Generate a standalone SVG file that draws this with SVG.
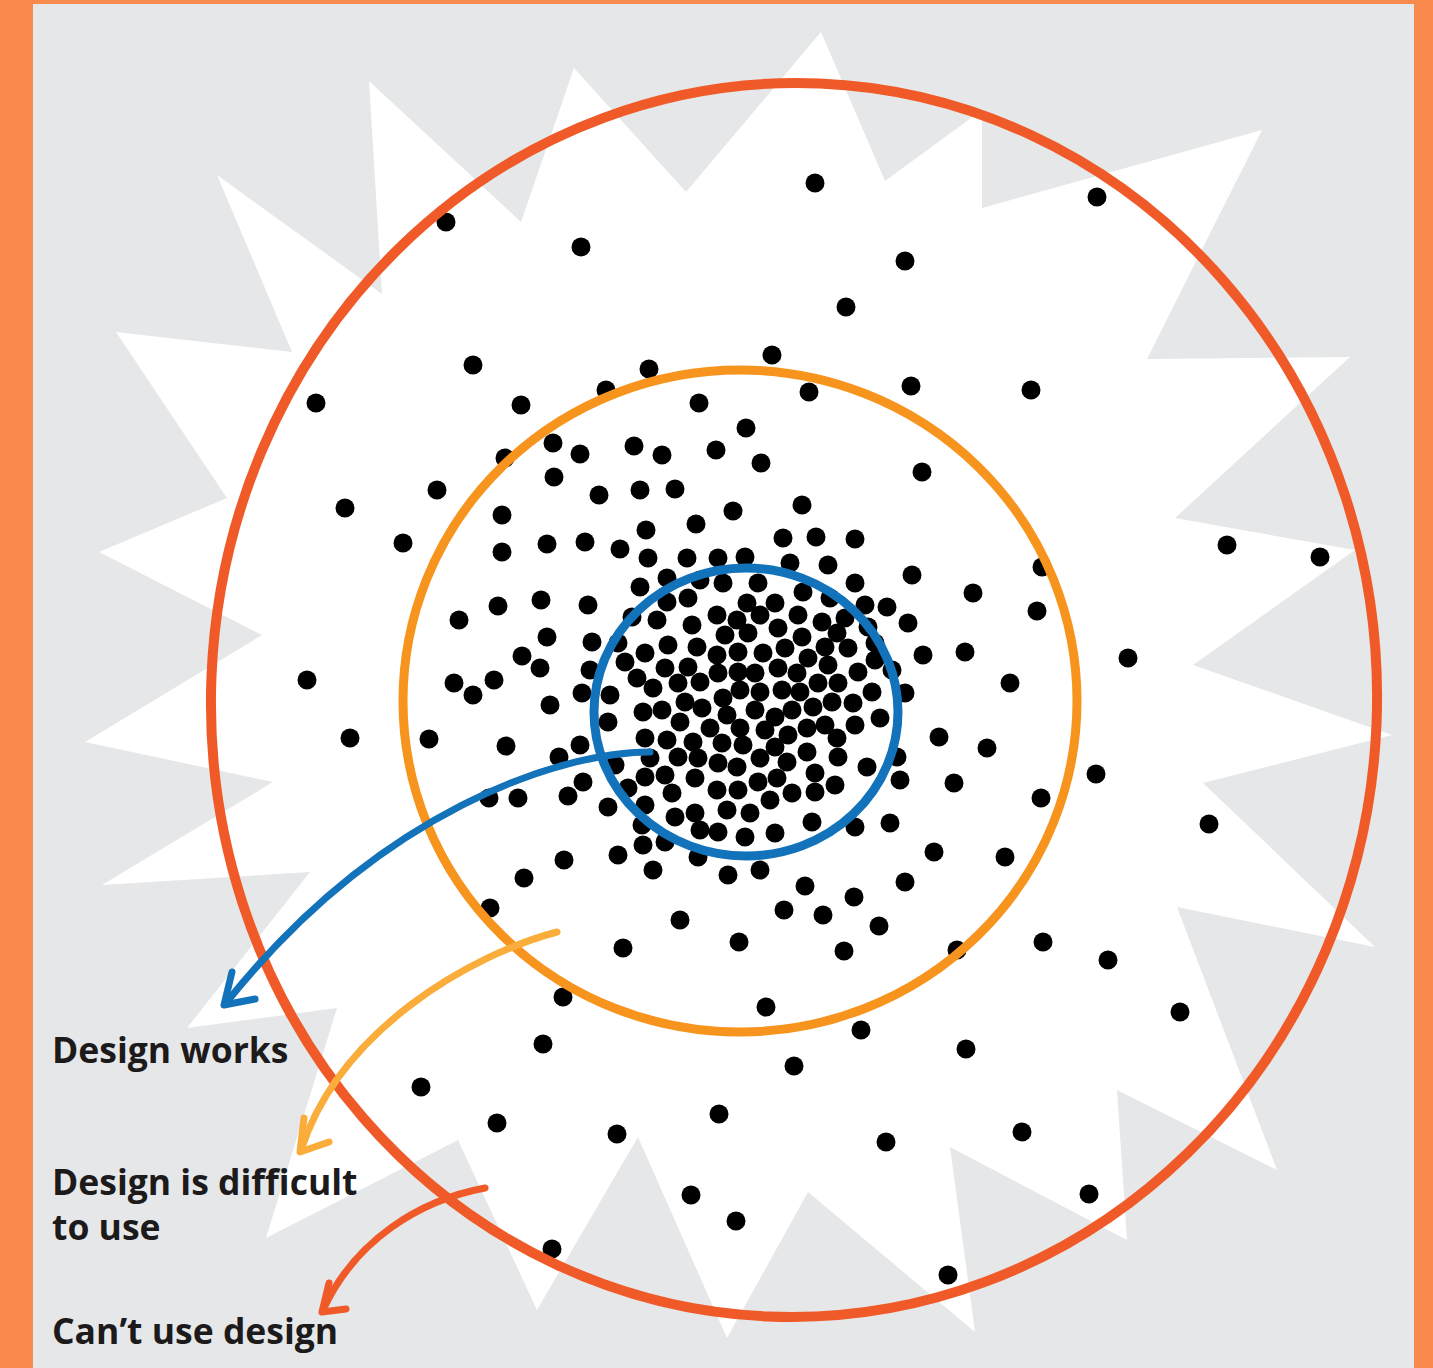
<svg xmlns="http://www.w3.org/2000/svg" width="1433" height="1368" viewBox="0 0 1433 1368">
<style>
.lbl{font-family:"Open Sans","Liberation Sans",sans-serif;font-weight:700;font-size:35.5px;fill:#1c1a1b}
.dots circle{fill:#000}
.ring{fill:none}
.arr{fill:none;stroke-width:7;stroke-linecap:round;stroke-linejoin:round}
</style>
<rect x="0" y="0" width="1433" height="1368" fill="#F78A4C"/>
<rect x="33" y="4" width="1381" height="1364" fill="#E6E7E8"/>
<g id="starburst">
<polygon fill="#FFFFFF" points="821,32 885,181 982,110 982,208 1262,130 1147,359 1350,357 1175,518 1355,550 1193,665 1392,735 1203,783 1375,947 1177,907 1277,1170 1117,1090 1127,1240 950,1147 975,1332 808,1192 727,1338 638,1137 537,1310 458,1140 266,1238 337,1008 187,1028 310,872 102,885 273,782 85,742 262,635 99,552 227,498 116,332 292,352 217,175 382,294 369,81 521,222 574,68 686,192"/>
</g>
<g id="dots" class="dots">
<circle cx="815" cy="183" r="9.5"/><circle cx="1097" cy="197" r="9.5"/><circle cx="446" cy="222" r="9.5"/><circle cx="581" cy="247" r="9.5"/><circle cx="905" cy="261" r="9.5"/><circle cx="846" cy="307" r="9.5"/><circle cx="473" cy="365" r="9.5"/><circle cx="649" cy="369" r="9.5"/><circle cx="772" cy="355" r="9.5"/><circle cx="911" cy="386" r="9.5"/><circle cx="809" cy="392" r="9.5"/><circle cx="606" cy="390" r="9.5"/><circle cx="521" cy="405" r="9.5"/><circle cx="699" cy="403" r="9.5"/><circle cx="316" cy="403" r="9.5"/><circle cx="1031" cy="390" r="9.5"/><circle cx="922" cy="472" r="9.5"/><circle cx="437" cy="490" r="9.5"/><circle cx="345" cy="508" r="9.5"/><circle cx="403" cy="543" r="9.5"/><circle cx="1227" cy="545" r="9.5"/><circle cx="1320" cy="557" r="9.5"/><circle cx="1042" cy="567" r="9.5"/><circle cx="1128" cy="658" r="9.5"/><circle cx="307" cy="680" r="9.5"/><circle cx="350" cy="738" r="9.5"/><circle cx="429" cy="739" r="9.5"/><circle cx="1096" cy="774" r="9.5"/><circle cx="1209" cy="824" r="9.5"/><circle cx="1041" cy="798" r="9.5"/><circle cx="1005" cy="857" r="9.5"/><circle cx="1043" cy="942" r="9.5"/><circle cx="1108" cy="960" r="9.5"/><circle cx="1180" cy="1012" r="9.5"/><circle cx="966" cy="1049" r="9.5"/><circle cx="1022" cy="1132" r="9.5"/><circle cx="1089" cy="1194" r="9.5"/><circle cx="948" cy="1275" r="9.5"/><circle cx="957" cy="950" r="9.5"/><circle cx="563" cy="997" r="9.5"/><circle cx="766" cy="1007" r="9.5"/><circle cx="861" cy="1030" r="9.5"/><circle cx="543" cy="1044" r="9.5"/><circle cx="794" cy="1066" r="9.5"/><circle cx="497" cy="1123" r="9.5"/><circle cx="617" cy="1134" r="9.5"/><circle cx="719" cy="1114" r="9.5"/><circle cx="886" cy="1142" r="9.5"/><circle cx="691" cy="1195" r="9.5"/><circle cx="736" cy="1221" r="9.5"/><circle cx="552" cy="1249" r="9.5"/><circle cx="421" cy="1087" r="9.5"/><circle cx="490" cy="908" r="9.5"/>
<circle cx="1010" cy="683" r="9.5"/><circle cx="987" cy="748" r="9.5"/><circle cx="954" cy="783" r="9.5"/><circle cx="973" cy="593" r="9.5"/><circle cx="1037" cy="611" r="9.5"/><circle cx="965" cy="652" r="9.5"/><circle cx="934" cy="852" r="9.5"/><circle cx="905" cy="882" r="9.5"/><circle cx="879" cy="926" r="9.5"/><circle cx="844" cy="951" r="9.5"/><circle cx="854" cy="897" r="9.5"/><circle cx="823" cy="915" r="9.5"/><circle cx="784" cy="910" r="9.5"/><circle cx="805" cy="886" r="9.5"/><circle cx="739" cy="942" r="9.5"/><circle cx="680" cy="920" r="9.5"/><circle cx="623" cy="948" r="9.5"/><circle cx="564" cy="860" r="9.5"/><circle cx="524" cy="878" r="9.5"/><circle cx="489" cy="798" r="9.5"/><circle cx="518" cy="798" r="9.5"/><circle cx="568" cy="796" r="9.5"/><circle cx="459" cy="620" r="9.5"/><circle cx="454" cy="683" r="9.5"/><circle cx="473" cy="695" r="9.5"/><circle cx="494" cy="680" r="9.5"/><circle cx="502" cy="515" r="9.5"/><circle cx="502" cy="552" r="9.5"/><circle cx="547" cy="544" r="9.5"/><circle cx="585" cy="542" r="9.5"/><circle cx="554" cy="477" r="9.5"/><circle cx="599" cy="495" r="9.5"/><circle cx="640" cy="490" r="9.5"/><circle cx="675" cy="489" r="9.5"/><circle cx="733" cy="511" r="9.5"/><circle cx="802" cy="505" r="9.5"/><circle cx="696" cy="524" r="9.5"/><circle cx="646" cy="530" r="9.5"/><circle cx="553" cy="443" r="9.5"/><circle cx="505" cy="458" r="9.5"/><circle cx="580" cy="454" r="9.5"/><circle cx="634" cy="446" r="9.5"/><circle cx="662" cy="455" r="9.5"/><circle cx="716" cy="450" r="9.5"/><circle cx="761" cy="463" r="9.5"/><circle cx="746" cy="428" r="9.5"/><circle cx="620" cy="549" r="9.5"/><circle cx="783" cy="538" r="9.5"/><circle cx="816" cy="537" r="9.5"/><circle cx="855" cy="539" r="9.5"/><circle cx="939" cy="737" r="9.5"/><circle cx="498" cy="606" r="9.5"/><circle cx="541" cy="600" r="9.5"/><circle cx="547" cy="637" r="9.5"/><circle cx="522" cy="656" r="9.5"/><circle cx="540" cy="668" r="9.5"/><circle cx="550" cy="705" r="9.5"/><circle cx="506" cy="746" r="9.5"/><circle cx="559" cy="757" r="9.5"/>
<circle cx="588" cy="605" r="9.5"/><circle cx="640" cy="587" r="9.5"/><circle cx="667" cy="578" r="9.5"/><circle cx="648" cy="558" r="9.5"/><circle cx="687" cy="558" r="9.5"/><circle cx="718" cy="558" r="9.5"/><circle cx="745" cy="557" r="9.5"/><circle cx="700" cy="580" r="9.5"/><circle cx="723" cy="583" r="9.5"/><circle cx="667" cy="602" r="9.5"/><circle cx="688" cy="598" r="9.5"/><circle cx="657" cy="620" r="9.5"/><circle cx="692" cy="625" r="9.5"/><circle cx="717" cy="615" r="9.5"/><circle cx="737" cy="620" r="9.5"/><circle cx="747" cy="603" r="9.5"/><circle cx="632" cy="617" r="9.5"/><circle cx="592" cy="642" r="9.5"/><circle cx="618" cy="643" r="9.5"/><circle cx="645" cy="653" r="9.5"/><circle cx="668" cy="645" r="9.5"/><circle cx="697" cy="647" r="9.5"/><circle cx="725" cy="635" r="9.5"/><circle cx="748" cy="633" r="9.5"/><circle cx="625" cy="662" r="9.5"/><circle cx="665" cy="668" r="9.5"/><circle cx="688" cy="667" r="9.5"/><circle cx="717" cy="655" r="9.5"/><circle cx="738" cy="652" r="9.5"/><circle cx="590" cy="670" r="9.5"/><circle cx="637" cy="678" r="9.5"/><circle cx="653" cy="688" r="9.5"/><circle cx="678" cy="683" r="9.5"/><circle cx="700" cy="682" r="9.5"/><circle cx="718" cy="673" r="9.5"/><circle cx="738" cy="672" r="9.5"/><circle cx="582" cy="693" r="9.5"/><circle cx="610" cy="695" r="9.5"/><circle cx="643" cy="712" r="9.5"/><circle cx="662" cy="710" r="9.5"/><circle cx="685" cy="702" r="9.5"/><circle cx="702" cy="708" r="9.5"/><circle cx="723" cy="698" r="9.5"/><circle cx="740" cy="690" r="9.5"/><circle cx="580" cy="745" r="9.5"/><circle cx="608" cy="722" r="9.5"/><circle cx="680" cy="722" r="9.5"/><circle cx="710" cy="728" r="9.5"/><circle cx="727" cy="715" r="9.5"/><circle cx="740" cy="728" r="9.5"/><circle cx="645" cy="738" r="9.5"/><circle cx="667" cy="740" r="9.5"/><circle cx="693" cy="742" r="9.5"/><circle cx="722" cy="743" r="9.5"/><circle cx="743" cy="745" r="9.5"/><circle cx="615" cy="765" r="9.5"/><circle cx="650" cy="758" r="9.5"/><circle cx="678" cy="757" r="9.5"/><circle cx="698" cy="758" r="9.5"/><circle cx="718" cy="763" r="9.5"/><circle cx="737" cy="767" r="9.5"/><circle cx="583" cy="782" r="9.5"/><circle cx="628" cy="788" r="9.5"/><circle cx="645" cy="777" r="9.5"/><circle cx="665" cy="775" r="9.5"/><circle cx="672" cy="793" r="9.5"/><circle cx="695" cy="778" r="9.5"/><circle cx="717" cy="790" r="9.5"/><circle cx="738" cy="790" r="9.5"/><circle cx="608" cy="807" r="9.5"/><circle cx="645" cy="805" r="9.5"/><circle cx="675" cy="817" r="9.5"/><circle cx="695" cy="813" r="9.5"/><circle cx="727" cy="810" r="9.5"/><circle cx="750" cy="813" r="9.5"/><circle cx="642" cy="825" r="9.5"/><circle cx="700" cy="830" r="9.5"/><circle cx="718" cy="832" r="9.5"/><circle cx="745" cy="837" r="9.5"/><circle cx="618" cy="855" r="9.5"/><circle cx="643" cy="845" r="9.5"/><circle cx="665" cy="842" r="9.5"/><circle cx="698" cy="857" r="9.5"/><circle cx="653" cy="870" r="9.5"/><circle cx="728" cy="875" r="9.5"/>
<circle cx="828" cy="565" r="9.5"/><circle cx="790" cy="563" r="9.5"/><circle cx="912" cy="575" r="9.5"/><circle cx="855" cy="583" r="9.5"/><circle cx="758" cy="583" r="9.5"/><circle cx="803" cy="592" r="9.5"/><circle cx="830" cy="598" r="9.5"/><circle cx="865" cy="605" r="9.5"/><circle cx="887" cy="607" r="9.5"/><circle cx="908" cy="623" r="9.5"/><circle cx="775" cy="603" r="9.5"/><circle cx="798" cy="615" r="9.5"/><circle cx="822" cy="622" r="9.5"/><circle cx="845" cy="618" r="9.5"/><circle cx="868" cy="627" r="9.5"/><circle cx="760" cy="615" r="9.5"/><circle cx="778" cy="628" r="9.5"/><circle cx="802" cy="637" r="9.5"/><circle cx="837" cy="633" r="9.5"/><circle cx="875" cy="643" r="9.5"/><circle cx="923" cy="655" r="9.5"/><circle cx="763" cy="653" r="9.5"/><circle cx="785" cy="648" r="9.5"/><circle cx="825" cy="647" r="9.5"/><circle cx="848" cy="648" r="9.5"/><circle cx="875" cy="660" r="9.5"/><circle cx="892" cy="670" r="9.5"/><circle cx="808" cy="658" r="9.5"/><circle cx="778" cy="668" r="9.5"/><circle cx="755" cy="673" r="9.5"/><circle cx="797" cy="673" r="9.5"/><circle cx="828" cy="665" r="9.5"/><circle cx="858" cy="672" r="9.5"/><circle cx="838" cy="683" r="9.5"/><circle cx="818" cy="683" r="9.5"/><circle cx="800" cy="692" r="9.5"/><circle cx="782" cy="690" r="9.5"/><circle cx="760" cy="692" r="9.5"/><circle cx="832" cy="702" r="9.5"/><circle cx="853" cy="703" r="9.5"/><circle cx="872" cy="692" r="9.5"/><circle cx="905" cy="693" r="9.5"/><circle cx="813" cy="707" r="9.5"/><circle cx="792" cy="710" r="9.5"/><circle cx="775" cy="717" r="9.5"/><circle cx="755" cy="710" r="9.5"/><circle cx="765" cy="730" r="9.5"/><circle cx="788" cy="735" r="9.5"/><circle cx="807" cy="728" r="9.5"/><circle cx="825" cy="725" r="9.5"/><circle cx="855" cy="725" r="9.5"/><circle cx="880" cy="718" r="9.5"/><circle cx="837" cy="738" r="9.5"/><circle cx="775" cy="747" r="9.5"/><circle cx="807" cy="752" r="9.5"/><circle cx="838" cy="757" r="9.5"/><circle cx="760" cy="758" r="9.5"/><circle cx="787" cy="762" r="9.5"/><circle cx="867" cy="767" r="9.5"/><circle cx="897" cy="757" r="9.5"/><circle cx="815" cy="773" r="9.5"/><circle cx="758" cy="782" r="9.5"/><circle cx="777" cy="778" r="9.5"/><circle cx="835" cy="785" r="9.5"/><circle cx="900" cy="780" r="9.5"/><circle cx="792" cy="793" r="9.5"/><circle cx="815" cy="792" r="9.5"/><circle cx="770" cy="800" r="9.5"/><circle cx="812" cy="822" r="9.5"/><circle cx="855" cy="827" r="9.5"/><circle cx="890" cy="823" r="9.5"/><circle cx="775" cy="833" r="9.5"/><circle cx="760" cy="870" r="9.5"/>
</g>
<g id="ring-cant-use">
<ellipse class="ring" cx="794" cy="700" rx="583" ry="617" transform="rotate(2.4 794 700)" stroke="#F05A28" stroke-width="10"/>
</g>
<g id="ring-difficult">
<ellipse class="ring" cx="740" cy="701" rx="337" ry="331" stroke="#F7941D" stroke-width="9"/>
</g>
<g id="ring-works">
<ellipse class="ring" cx="746" cy="712" rx="152" ry="144" stroke="#1272BA" stroke-width="9"/>
</g>
<g id="connectors">
<path class="arr" stroke="#1272BA" d="M650,752 C560,752 380,810 226,1003"/>
<path class="arr" stroke="#1272BA" d="M232,972 L224,1005 L255,999"/>
<path class="arr" stroke="#FBAD3B" d="M557,932 C470,955 340,1030 301,1150"/>
<path class="arr" stroke="#FBAD3B" d="M304,1118 L300,1152 L329,1142"/>
<path class="arr" stroke="#F05A28" d="M485,1188 C420,1200 355,1240 323,1310"/>
<path class="arr" stroke="#F05A28" d="M329,1283 L322,1312 L346,1309"/>
</g>
<g id="label-works"><text class="lbl" x="52" y="1063">Design works</text></g>
<g id="label-difficult"><text class="lbl" x="52" y="1195">Design is difficult</text><text class="lbl" x="52" y="1240">to use</text></g>
<g id="label-cant"><text class="lbl" x="52" y="1344">Can’t use design</text></g>
</svg>
